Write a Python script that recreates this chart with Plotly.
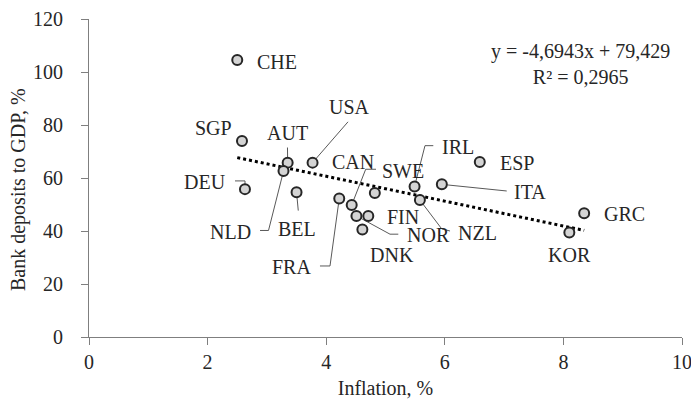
import plotly.graph_objects as go

# ---- data ----
countries = ["CHE", "SGP", "AUT", "USA", "NLD", "DEU", "BEL", "FRA", "CAN", "NOR",
             "FIN", "DNK", "SWE", "IRL", "NZL", "ITA", "ESP", "GRC", "KOR"]
inflation = [2.50, 2.58, 3.35, 3.77, 3.28, 2.63, 3.50, 4.22, 4.43, 4.51,
             4.71, 4.61, 4.82, 5.49, 5.58, 5.95, 6.59, 8.35, 8.10]
deposits = [104.5, 74.0, 65.8, 65.8, 62.6, 55.8, 54.6, 52.3, 49.8, 45.7,
            45.7, 40.6, 54.3, 56.8, 51.7, 57.6, 66.0, 46.7, 39.4]
trend_slope = -4.6943
trend_intercept = 79.429
r_squared = 0.2965
x_ticks = [0, 2, 4, 6, 8, 10]
y_ticks = [0, 20, 40, 60, 80, 100, 120]

# ---- label placement (data units) ----
label_pos = {
    "CHE": (3.165, 103.9), "SGP": (2.096, 78.8), "AUT": (3.344, 77.1),
    "USA": (4.390, 86.7), "CAN": (4.452, 66.2), "DEU": (1.956, 58.6),
    "NLD": (2.378, 39.7), "BEL": (3.513, 40.6), "FRA": (3.418, 26.5),
    "SWE": (5.300, 62.8), "IRL": (6.228, 71.8), "FIN": (5.300, 45.4),
    "NOR": (5.722, 38.5), "DNK": (5.105, 30.9), "NZL": (6.548, 39.4),
    "ITA": (7.437, 54.8), "ESP": (7.212, 65.8), "GRC": (9.022, 46.3),
    "KOR": (8.111, 30.9),
}
# leader line waypoints (label side first), ending at the data point
leaders = {
    "AUT": [(3.347, 71.5)],
    "NLD": [(2.884, 40.2), (3.027, 40.2)],
    "USA": [(4.368, 81.2)],
    "CAN": [(4.840, 63.3), (4.666, 63.3)],
    "DEU": [(2.462, 58.9), (2.631, 58.9)],
    "BEL": [(3.529, 47.7)],
    "FRA": [(3.895, 26.8), (4.064, 26.8)],
    "IRL": [(5.806, 72.2), (5.666, 72.2)],
    "NOR": [(5.216, 38.8), (5.076, 38.8)],
    "NZL": [(6.088, 40.0), (5.948, 40.8)],
    "ITA": [(7.044, 55.1)],
}

FONT = "Liberation Serif, Times New Roman, serif"
TXT = "#262626"
L, R, T, B = 89, 9, 19, 69
W, H = 691, 406
PW, PH = W - L - R, H - T - B

fig = go.Figure()

# trend line
xmin, xmax = min(inflation), max(inflation)
fig.add_trace(go.Scatter(
    x=[xmin, xmax],
    y=[trend_intercept + trend_slope * xmin, trend_intercept + trend_slope * xmax],
    mode="lines", line=dict(color="black", width=3, dash="dot"),
    hoverinfo="skip", showlegend=False))

# leader lines
for c, pts in leaders.items():
    i = countries.index(c)
    xs = [p[0] for p in pts] + [inflation[i]]
    ys = [p[1] for p in pts] + [deposits[i]]
    fig.add_trace(go.Scatter(x=xs, y=ys, mode="lines",
                             line=dict(color="#595959", width=1),
                             hoverinfo="skip", showlegend=False))

# points
fig.add_trace(go.Scatter(
    x=inflation, y=deposits, mode="markers", text=countries,
    marker=dict(size=10, color="#d4d4d4", line=dict(color="#262626", width=2)),
    showlegend=False))

for c in countries:
    lx, ly = label_pos[c]
    fig.add_annotation(x=lx, y=ly, text=c, showarrow=False, xref="x", yref="y",
                       font=dict(family=FONT, size=20, color=TXT))

# regression equation
fig.add_annotation(
    x=(580 - L) / PW, y=(H - B - 64) / PH, xref="paper", yref="paper",
    xanchor="center", yanchor="middle",
    text="y = -4,6943x + 79,429<br>R² = 0,2965", showarrow=False,
    font=dict(family=FONT, size=20, color=TXT), align="center")

# y-axis title
fig.add_annotation(
    x=(18 - L) / PW, y=(H - B - 190) / PH, xref="paper", yref="paper",
    xanchor="center", yanchor="middle", textangle=-90,
    text="Bank deposits to GDP, %", showarrow=False,
    font=dict(family=FONT, size=20, color=TXT))

fig.update_layout(
    width=W, height=H,
    margin=dict(l=L, r=R, t=T, b=B, autoexpand=False),
    paper_bgcolor="white", plot_bgcolor="white",
    font=dict(family=FONT, size=20, color=TXT),
)

fig.update_xaxes(range=[0, 10], tickvals=x_ticks, ticktext=[str(v) for v in x_ticks],
                 showgrid=False, zeroline=False, ticklabeloverflow="allow",
                 automargin=False,
                 showline=True, linecolor="#7f7f7f", linewidth=1,
                 ticks="outside", ticklen=7, tickcolor="#7f7f7f",
                 tickfont=dict(family=FONT, size=20, color=TXT),
                 title=dict(text="Inflation, %", font=dict(family=FONT, size=20, color=TXT),
                            standoff=8))
fig.update_yaxes(range=[0, 120], tickvals=y_ticks, showgrid=False, zeroline=False,
                 showline=True, linecolor="#7f7f7f", linewidth=1, automargin=False,
                 ticks="outside", ticklen=7, tickcolor="#7f7f7f",
                 ticklabelstandoff=14, ticklabeloverflow="allow",
                 tickfont=dict(family=FONT, size=20, color=TXT))

fig.write_html("out.html")
